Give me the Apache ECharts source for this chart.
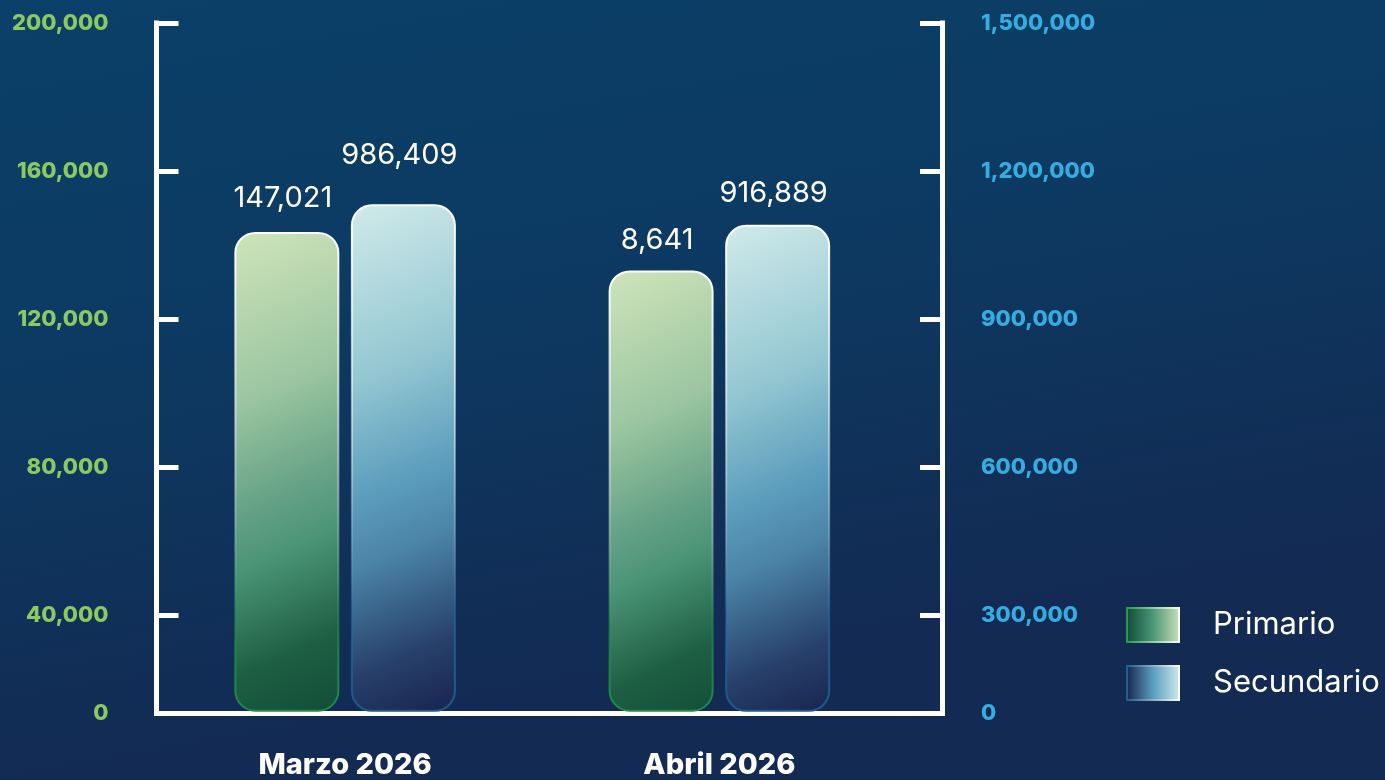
<!DOCTYPE html>
<html>
<head>
<meta charset="utf-8">
<title>Primario / Secundario</title>
<script src="https://cdn.jsdelivr.net/npm/echarts@6/dist/echarts.min.js"></script>
<style>
    html, body { margin: 0; padding: 0; background: #0e335c; }
    #chart { width: 1385px; height: 780px; }
</style>
</head>
<body>
<div id="chart"></div>
<script>
    var months = ['Marzo 2026', 'Abril 2026'];
    var seriesNames = ['Primario', 'Secundario'];

    // bar heights
    var primario = [143000, 132500];
    var secundario = [1129000, 1087000];

    // values printed above the bars
    var primarioText = ['147,021', '8,641'];
    var secundarioText = ['986,409', '916,889'];

    // axis ranges and tick labels
    var leftMin = 13400, leftMax = 200000;
    var rightMin = 100500, rightMax = 1500000;
    var leftTicks = [40000, 80000, 120000, 160000, 200000];
    var rightTicks = [300000, 600000, 900000, 1200000, 1500000];

    var font = 'Inter';
    var liftPrimario = [19, 16];
    var liftSecundario = [35, 17];

    function grad(x2, y2, stops) {
        return new echarts.graphic.LinearGradient(0, 0, x2, y2, stops.map(function (s) {
            return { offset: s[0], color: s[1] };
        }));
    }

    function fmt(n) {
        return String(n).replace(/\B(?=(\d{3})+(?!\d))/g, ',');
    }

    var greenFill = grad(2, 1, [[0, '#cfe4ba'], [0.3, '#9cc6a1'], [0.5, '#64a185'], [0.6, '#4a9476'], [0.78, '#1e5f43'], [0.95, '#0f4a36']]);
    var greenEdge = grad(0, 1, [[0, '#ffffff'], [0.5, 'rgba(255,255,255,0.45)'], [0.8, 'rgba(40,150,80,0.55)'], [1, '#1f8c47']]);
    var blueFill = grad(2, 1, [[0, '#d0eaea'], [0.3, '#94c7d2'], [0.5, '#5c9dbd'], [0.62, '#4a83a6'], [0.8, '#27406b'], [0.95, '#151f48']]);
    var blueEdge = grad(0, 1, [[0, '#ffffff'], [0.5, 'rgba(255,255,255,0.45)'], [0.8, 'rgba(40,110,170,0.55)'], [1, '#1b5a8c']]);

    function buildData(values, texts, lifts) {
        var out = [];
        for (var i = 0; i < values.length; i++) {
            out.push({
                value: values[i],
                label: { distance: lifts[i], formatter: texts[i] }
            });
        }
        return out;
    }

    var barLabel = {
        show: true,
        position: 'top',
        offset: [-4, 0],
        color: '#ffffff',
        fontFamily: font,
        fontSize: 29
    };

    var axisLineStyle = { color: '#ffffff', width: 5, cap: 'square' };

    var option = {
        backgroundColor: {
            type: 'linear', x: 0, y: 0, x2: 0.1, y2: 1,
            colorStops: [
                { offset: 0, color: '#0b4068' },
                { offset: 0.45, color: '#0c3a62' },
                { offset: 1, color: '#132a53' }
            ]
        },
        animation: false,
        grid: [
            { left: 156.5, top: 23, width: 785.5, height: 690.5 },
            { left: 158, top: 23, width: 748.5, height: 690.5 }
        ],
        legend: {
            orient: 'vertical',
            left: 1126,
            top: 607,
            padding: 0,
            icon: 'rect',
            itemWidth: 52,
            itemHeight: 34,
            itemGap: 22,
            textStyle: { color: '#ffffff', fontFamily: font, fontSize: 31, padding: [4, 0, 0, 29] },
            data: [
                {
                    name: seriesNames[0],
                    itemStyle: {
                        color: grad(1, 0, [[0, '#0f4c37'], [0.5, '#4b9676'], [1, '#cbe1b8']]),
                        borderColor: grad(1, 0, [[0, '#1f9a48'], [1, '#ffffff']]),
                        borderWidth: 2
                    }
                },
                {
                    name: seriesNames[1],
                    itemStyle: {
                        color: grad(1, 0, [[0, '#15224a'], [0.5, '#5b9ec0'], [1, '#d0eaea']]),
                        borderColor: grad(1, 0, [[0, '#1d5c8c'], [1, '#ffffff']]),
                        borderWidth: 2
                    }
                }
            ]
        },
        xAxis: [
            {
                type: 'category', gridIndex: 0, data: months,
                axisLine: { lineStyle: axisLineStyle },
                axisTick: { show: false },
                axisLabel: { show: false }
            },
            {
                type: 'category', gridIndex: 1, data: months,
                axisLine: { show: false },
                axisTick: { show: false },
                axisLabel: { color: '#ffffff', fontFamily: font, fontWeight: 800, fontSize: 29, margin: 44 }
            }
        ],
        yAxis: [
            {
                type: 'value', gridIndex: 0, position: 'left',
                min: leftMin, max: leftMax,
                splitLine: { show: false },
                axisLine: { show: true, lineStyle: axisLineStyle },
                axisTick: { show: true, inside: true, length: 22, customValues: leftTicks, lineStyle: { color: '#ffffff', width: 5 } },
                axisLabel: {
                    customValues: [leftMin].concat(leftTicks),
                    margin: 48,
                    color: '#8cc962', fontFamily: font, fontWeight: 800, fontSize: 22,
                    formatter: function (v) { return v === leftMin ? '0' : fmt(v); }
                }
            },
            {
                type: 'value', gridIndex: 0, position: 'right',
                min: rightMin, max: rightMax,
                splitLine: { show: false },
                axisLine: { show: true, lineStyle: axisLineStyle },
                axisTick: { show: true, inside: true, length: 22, customValues: rightTicks, lineStyle: { color: '#ffffff', width: 5 } },
                axisLabel: {
                    customValues: [rightMin].concat(rightTicks),
                    margin: 39,
                    color: '#36ade0', fontFamily: font, fontWeight: 800, fontSize: 22,
                    formatter: function (v) { return v === rightMin ? '0' : fmt(v); }
                }
            },
            {
                // bars rest on the axis line
                type: 'value', gridIndex: 1, min: leftMin, max: leftMax, startValue: leftMin - 1300,
                show: false, splitLine: { show: false }
            },
            {
                type: 'value', gridIndex: 1, min: rightMin, max: rightMax, startValue: rightMin - 9800,
                show: false, splitLine: { show: false }
            }
        ],
        series: [
            {
                name: seriesNames[0],
                type: 'bar',
                xAxisIndex: 1,
                yAxisIndex: 2,
                barWidth: 105,
                barGap: '11%',
                clip: false,
                label: barLabel,
                itemStyle: { color: greenFill, borderColor: greenEdge, borderWidth: 2, borderRadius: 20 },
                data: buildData(primario, primarioText, liftPrimario)
            },
            {
                name: seriesNames[1],
                type: 'bar',
                xAxisIndex: 1,
                yAxisIndex: 3,
                barWidth: 105,
                barGap: '11%',
                clip: false,
                label: barLabel,
                itemStyle: { color: blueFill, borderColor: blueEdge, borderWidth: 2, borderRadius: 20 },
                data: buildData(secundario, secundarioText, liftSecundario)
            }
        ]
    };

    var chart = echarts.init(document.getElementById('chart'));
    chart.setOption(option);
</script>
</body>
</html>
